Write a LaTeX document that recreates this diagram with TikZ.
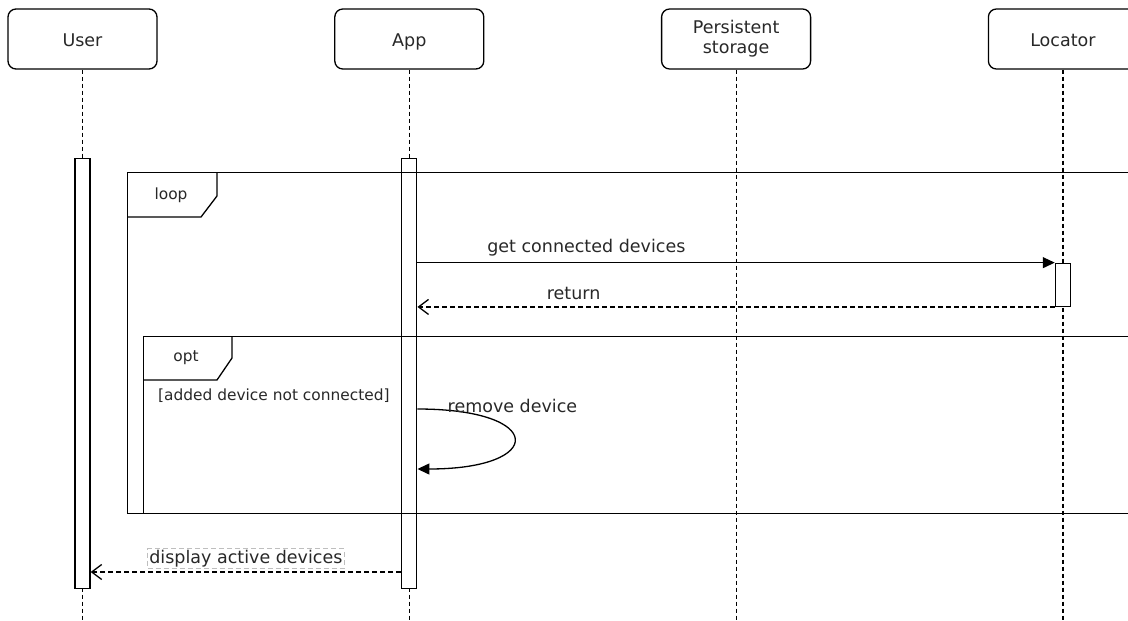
\documentclass[tikz,border=0pt]{standalone}
\usepackage{fontspec}
\setmainfont{DejaVu Sans}
\usetikzlibrary{arrows.meta, positioning}
\definecolor{ink}{RGB}{0,0,0}
\definecolor{labelgray}{RGB}{40,40,40}
\definecolor{boxgray}{RGB}{190,190,190}
\tikzset{
  head/.style={rectangle, rounded corners=8pt, draw=ink, line width=1.3pt, fill=white,
               minimum width=149pt, minimum height=60pt, align=center, inner sep=2pt,
               text=labelgray, font=\fontsize{17.5}{20}\selectfont,
               execute at begin node={\rule[-4pt]{0pt}{22pt}}},
  lifeline/.style={draw=ink, line width=1.2pt, dash pattern=on 4pt off 3pt},
  bar/.style={rectangle, draw=ink, line width=1.3pt, fill=white,
              minimum width=15pt, inner sep=0pt},
  frame/.style={rectangle, draw=ink, line width=1.3pt, inner sep=0pt, anchor=north west},
  tag/.style={draw=ink, line width=1.3pt},
  framelabel/.style={text=labelgray, font=\fontsize{15.4}{18}\selectfont, inner sep=0pt},
  msg/.style={text=labelgray, font=\fontsize{17.5}{20}\selectfont, inner sep=1.5pt},
  call/.style={-{Triangle[length=12pt, width=11pt]}, draw=ink, line width=1.3pt},
  reply/.style={-{Straight Barb[length=10pt, width=15pt]}, draw=ink, line width=1.3pt,
                dash pattern=on 5pt off 3pt},
}

\begin{document}
\begin{tikzpicture}[x=1pt, y=-1pt, node distance=176.5pt]
    \useasboundingbox (0,0) rectangle (1128,621);
    \coordinate (bottom) at (0,621);

    \node[head] (user) at (82.5,39) {User};
    \node[head, right=of user] (app) {App};
    \node[head, right=of app] (store) {Persistent\\storage};
    \node[head, right=of store] (loc) {Locator};

    \foreach \who in {user, app, store, loc}
      \draw[lifeline] (\who.south) -- (\who.south |- bottom);

    \node[bar, minimum height=430pt, below=88pt of user] (userbar) {};
    \node[bar, minimum height=430pt, below=88pt of app] (appbar) {};
    \node[bar, minimum height=43pt, below=193pt of loc] (locbar) {};

    % loop frame
    \node[frame, minimum width=1013pt, minimum height=341pt] (loop) at (127,172) {};
    \draw[tag] (loop.north west) ++(90,0) -- ++(0,24) -- ++(-16,21) -- ++(-74,0);
    \node[framelabel] (looplbl) at (171,195) {loop};

    % opt frame
    \node[frame, minimum width=997pt, minimum height=177pt] (opt) at (143,336) {};
    \draw[tag] (opt.north west) ++(89,0) -- ++(0,22) -- ++(-15,22) -- ++(-74,0);
    \node[framelabel] (optlbl) at (186,358) {opt};
    \node[framelabel, anchor=west] (guard) at (158,396) {[added device not connected]};

    \draw[call] (appbar.east |- locbar.north) --
      node[msg, pos=0.265, above=4pt] {get connected devices} (locbar.north west);
    \draw[reply] (locbar.south west) --
      node[msg, pos=0.755, above=5pt] {return} (appbar.east |- locbar.south);

    \draw[call] (appbar.east |- 0,409) .. controls (546,409) and (546,469) .. (appbar.east |- 0,469);
    \node[msg, anchor=west] (rmlbl) at (446,406) {remove device};

    \draw[reply] (appbar.west |- 0,572) --
      node[msg, above=3pt, fill=white, draw=boxgray, line width=0.8pt] {display active devices}
      (userbar.east |- 0,572);
\end{tikzpicture}
\end{document}
